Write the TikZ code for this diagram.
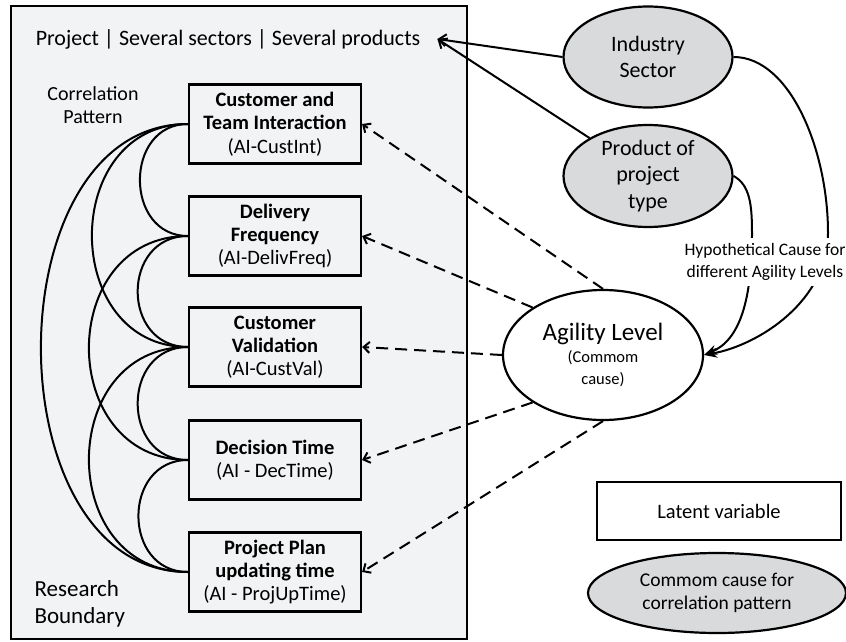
\documentclass[tikz,border=0pt]{standalone}
\usepackage{fontspec}
\setmainfont{Carlito}
\usetikzlibrary{shapes.geometric,arrows.meta}

\definecolor{fundo}{RGB}{242,243,245}
\definecolor{cinza}{RGB}{217,218,220}

\begin{document}
\begin{tikzpicture}[x=1pt, y=-1pt, %Unidades em pixels, eixo y para baixo
  caixa/.style={draw, line width=2.2pt, minimum width=172pt, minimum height=79pt, inner sep=0pt, align=center, font=\fontsize{20.5}{23.3}\selectfont},
  elipse/.style={draw, ellipse, line width=2.2pt, fill=cinza, inner sep=0pt, align=center},
  corr/.style={line width=2pt},
  tracejada/.style={line width=2pt, dash pattern=on 12pt off 7pt, -{Straight Barb[length=6pt,width=11pt]}},
  causa/.style={line width=2pt, -{Stealth[length=13pt,width=10pt]}}]
	\useasboundingbox (0,0) rectangle (846,642); %Margens
	\draw[line width=2.4pt, fill=fundo] (11,6) rectangle (467,639); %Fronteira da pesquisa
		%Textos da fronteira
	\node[inner xsep=17pt, font=\fontsize{22}{26}\selectfont] (titulo) at (228,39) {Project | Several sectors | Several products};
	\node[align=center, font=\fontsize{20}{23}\selectfont] (padrao) at (93,105) {Correlation\\Pattern};
	\node[align=left, anchor=west, font=\fontsize{23}{26.7}\selectfont] (fronteira) at (31,604) {Research\\Boundary};
		%Variaveis latentes
	\node[caixa] (custint) at (275,124) {\textbf{Customer and}\\\textbf{Team Interaction}\\(AI-CustInt)};
	\node[caixa] (delivfreq) at (275,236) {\textbf{Delivery}\\\textbf{Frequency}\\(AI-DelivFreq)};
	\node[caixa] (custval) at (275,347) {\textbf{Customer}\\\textbf{Validation}\\(AI-CustVal)};
	\node[caixa] (dectime) at (275,460) {\textbf{Decision Time}\\(AI - DecTime)};
	\node[caixa] (projup) at (275,572) {\textbf{Project Plan}\\\textbf{updating time}\\(AI - ProjUpTime)};
		%Padrao de correlacao
	\draw[corr] (custint.west) .. controls +(-64,0) and +(-64,0) .. (delivfreq.west);
	\draw[corr] (delivfreq.west) .. controls +(-67,0) and +(-67,0) .. (custval.west);
	\draw[corr] (custval.west) .. controls +(-67,0) and +(-67,0) .. (dectime.west);
	\draw[corr] (dectime.west) .. controls +(-66,0) and +(-66,0) .. (projup.west);
	\draw[corr] (custint.west) .. controls +(-128,0) and +(-128,0) .. (custval.west);
	\draw[corr] (delivfreq.west) .. controls +(-132,0) and +(-132,0) .. (dectime.west);
	\draw[corr] (custval.west) .. controls +(-132,0) and +(-132,0) .. (projup.west);
	\draw[corr] (custint.west) .. controls +(-196,0) and +(-196,0) .. (projup.west);
		%Causas
	\node[elipse, minimum width=169pt, minimum height=101pt, font=\fontsize{22}{26}\selectfont] (setor) at (648,57) {Industry\\Sector};
	\node[elipse, minimum width=169pt, minimum height=102pt, font=\fontsize{22}{26.5}\selectfont] (produto) at (648,176) {Product of\\project\\type};
	\node[elipse, fill=white, minimum width=200pt, minimum height=130pt, font=\fontsize{16.5}{22}\selectfont] (agilidade) at (603,355) {{\fontsize{25}{26}\selectfont Agility Level}\\(Commom\\cause)};
		%Setas
	\draw[causa, -{Straight Barb[length=7pt,width=12pt]}] (setor.west) -- (titulo.east);
	\draw[causa, -{Straight Barb[length=7pt,width=12pt]}] (produto.147) -- (titulo.east);
	\draw[causa] (setor.east) .. controls (790,57) and (828,150) .. (828,233) .. controls (828,300) and (760,345) .. (agilidade.east);
	\draw[causa] (produto.east) .. controls (750,185) and (752,205) .. (752,233) .. controls (752,300) and (740,340) .. (agilidade.east);
	\node[fill=white, align=center, inner sep=6pt, font=\fontsize{17.5}{21.7}\selectfont] (hipotese) at (765,262) {Hypothetical Cause for\\different Agility Levels};
	\draw[tracejada] (agilidade.north) -- (custint.east);
	\draw[tracejada] (agilidade.146) -- (delivfreq.east);
	\draw[tracejada] (agilidade.west) -- (custval.east);
	\draw[tracejada] (agilidade.214) -- (dectime.east);
	\draw[tracejada] (agilidade.south) -- (projup.east);
		%Legenda
	\node[draw, line width=2.2pt, fill=white, minimum width=244pt, minimum height=58pt, font=\fontsize{20.5}{24}\selectfont] (latente) at (719,511) {Latent variable};
	\node[elipse, minimum width=258pt, minimum height=80pt, font=\fontsize{19.5}{23.7}\selectfont] (comum) at (717,593) {Commom cause for\\correlation pattern};
\end{tikzpicture}
\end{document}
